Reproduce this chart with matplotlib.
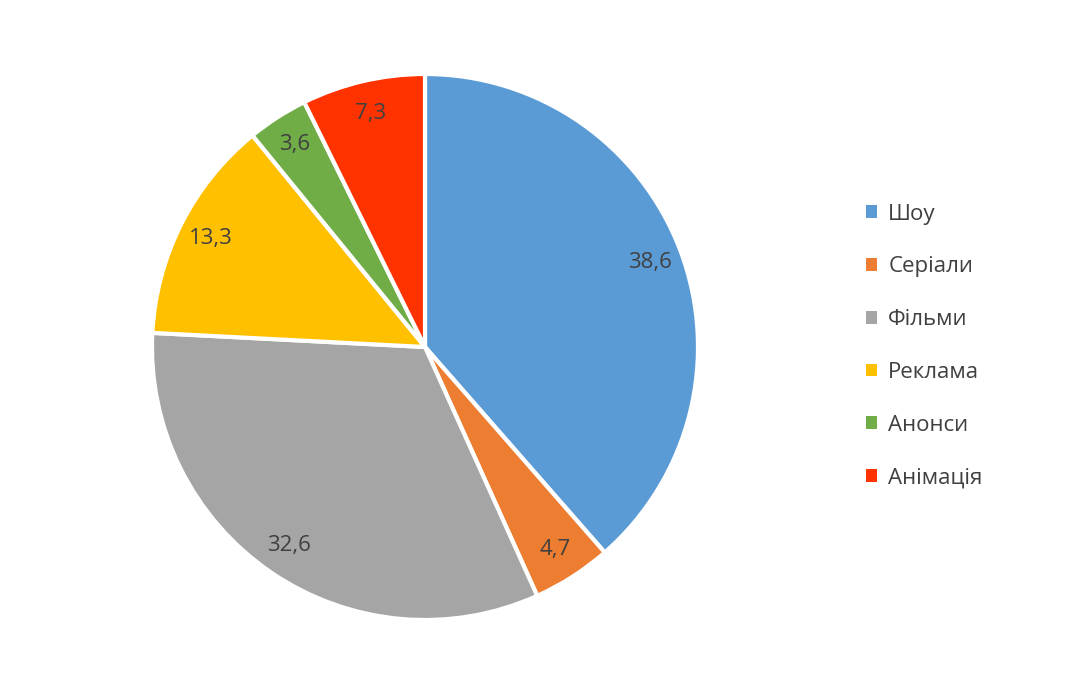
import matplotlib
matplotlib.use('Agg')
import matplotlib.pyplot as plt
from matplotlib.patches import Patch

# data
categories = ['Шоу', 'Серіали', 'Фільми', 'Реклама', 'Анонси', 'Анімація']
values = [38.6, 4.7, 32.6, 13.3, 3.6, 7.3]
colors = ['#5B9BD5', '#ED7D31', '#A5A5A5', '#FFC000', '#70AD47', '#FF3300']
value_labels = [('%.1f' % v).replace('.', ',') for v in values]

plt.rcParams['font.family'] = ['Open Sans', 'DejaVu Sans']
text_color = '#404040'

W, H = 1066, 691
fig = plt.figure(figsize=(W / 100, H / 100), dpi=100)
fig.patch.set_facecolor('white')

cx, cy, r = 425, 347, 273
ax = fig.add_axes([(cx - r) / W, (H - cy - r) / H, 2 * r / W, 2 * r / H])

wedges, texts = ax.pie(values, colors=colors, startangle=90, counterclock=False,
                       labels=value_labels, labeldistance=0.88,
                       wedgeprops=dict(edgecolor='white', linewidth=3))
for t in texts:
    t.set_ha('center')
    t.set_va('center')
    t.set_fontsize(16)
    t.set_color(text_color)
ax.set_xlim(-1, 1)
ax.set_ylim(-1, 1)
ax.set_aspect('equal')
ax.axis('off')

handles = [Patch(facecolor=c, edgecolor='none') for c in colors]
leg = fig.legend(handles, categories, loc='center left',
                 bbox_to_anchor=(846 / W, (H - 346) / H),
                 frameon=False, fontsize=16, labelcolor=text_color,
                 handlelength=0.5, handleheight=0.5, handletextpad=0.5,
                 labelspacing=1.43)

fig.savefig('out.png', dpi=100)
